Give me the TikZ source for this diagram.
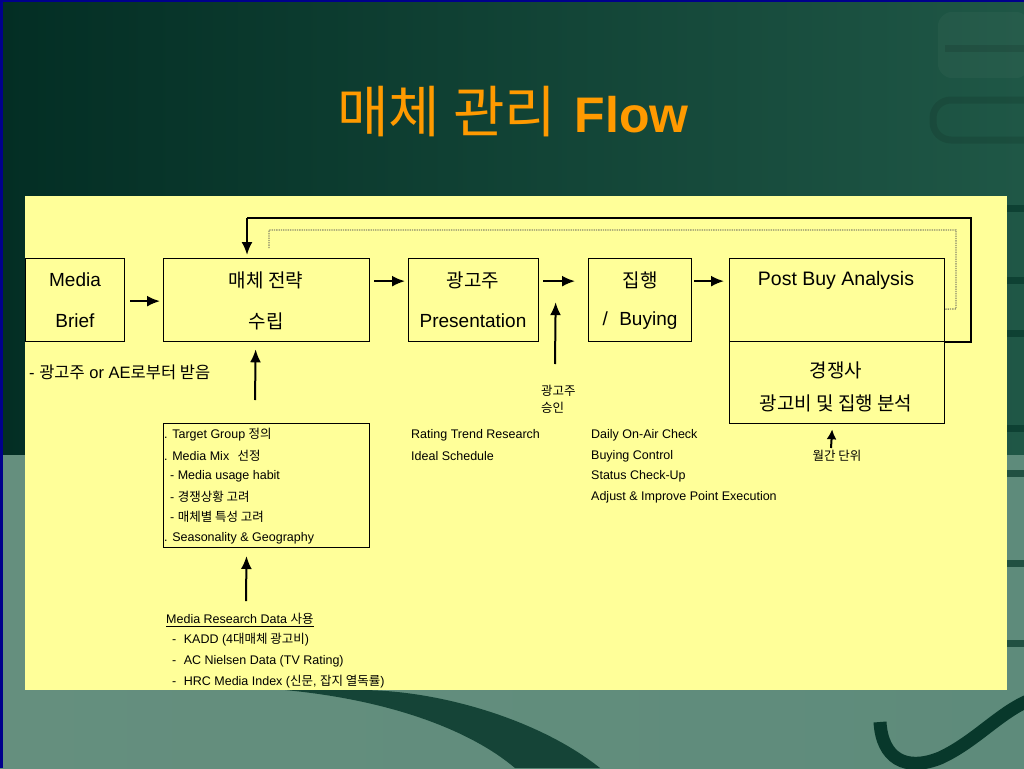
\documentclass[tikz,border=0pt]{standalone}
\usepackage{fontspec}
\setmainfont{Liberation Sans}
\newfontfamily\krfont{Noto Sans CJK KR}
\newcommand\kr[1]{{\krfont #1}}
\usetikzlibrary{arrows.meta,calc}
\definecolor{panel}{HTML}{FFFF99}
\definecolor{ttl}{HTML}{FF9A00}
\definecolor{bgTL}{HTML}{032E24}
\definecolor{bgTR}{HTML}{1F5746}
\definecolor{bgBL}{HTML}{658F7E}
\definecolor{bgBM}{HTML}{235343}
\definecolor{bgBR}{HTML}{5E8B7B}
\definecolor{dk}{HTML}{08382B}
\definecolor{dotc}{HTML}{8A8A6A}
\tikzset{
  box/.style={draw=black, line width=1.3pt, inner sep=0pt, anchor=north west},
  bt/.style={font=\fontsize{19}{22}\selectfont, inner sep=0pt, anchor=center},
  st/.style={font=\fontsize{12.5}{15}\selectfont, inner sep=0pt, anchor=west},
  arr/.style={line width=2pt, -{Latex[length=13pt,width=11pt]}},
  fb/.style={line width=2pt},
  dotl/.style={draw=dotc, line width=1.3pt, densely dotted},
}
\begin{document}
\begin{tikzpicture}[x=1pt,y=-1pt]
\useasboundingbox (0,0) rectangle (1024,768);
% background
\fill[left color=bgTL, right color=bgTR] (0,0) rectangle (1024,456);
\fill[left color=bgBL, middle color=bgBM, right color=bgBR] (0,455) rectangle (1024,768);
\fill[dk, opacity=0.85] (285,690) .. controls (390,700) and (470,730) .. (515,768) -- (600,768) .. controls (540,720) and (440,690) .. (360,690) -- cycle;
\draw[dk, line width=13pt] (880,722) .. controls (882,758) and (905,772) .. (940,758) .. controls (975,742) and (1000,712) .. (1030,700);
% right decorations
\fill[white, opacity=0.03, rounded corners=14pt] (938,12) rectangle (1030,78);
\fill[black, opacity=0.10] (945,45) rectangle (1030,52);
\draw[black, opacity=0.10, line width=7pt, rounded corners=18pt] (933,100) rectangle (1045,140);
\foreach \yy in {205,277,330,425,470,560,640} {\fill[dk, opacity=0.7] (1007,\yy) rectangle (1024,\yy+7);}
\fill[blue!55!black] (0,0) rectangle (1024,2.5);
\fill[blue!55!black] (0,0) rectangle (2.5,768);
% title
\node[inner sep=0pt, text=ttl] (title) at (513,112) {\fontsize{56}{60}\selectfont\kr{매체 관리}\hspace{0.33em}\fontsize{50}{56}\selectfont\textbf{Flow}};
% panel
\fill[panel] (25,196) rectangle (1007,690);
% boxes
\node[box, minimum width=99pt, minimum height=83pt] (brief) at (25,258) {};
\node[box, minimum width=206pt, minimum height=83pt] (strat) at (163,258) {};
\node[box, minimum width=130pt, minimum height=83pt] (pres) at (408,258) {};
\node[box, minimum width=103pt, minimum height=83pt] (buy) at (588,258) {};
\node[box, minimum width=215pt, minimum height=83pt] (pba) at (729,258) {};
\node[box, minimum width=215pt, minimum height=82pt] (comp) at (729,341) {};
\node[box, line width=1pt, minimum width=206pt, minimum height=124pt] (detail) at (163,423) {};
% box texts
\node[bt] (briefA) at (75,280) {Media};
\node[bt] (briefB) at (75,321) {Brief};
\node[bt] (stratA) at (266,280) {\kr{매체 전략}};
\node[bt] (stratB) at (266,321) {\kr{수립}};
\node[bt] (presA) at (473,280) {\kr{광고주}};
\node[bt] (presB) at (473,321) {Presentation};
\node[bt] (buyA) at (640,280) {\kr{집행}};
\node[bt] (buyB) at (640,321) {/\hspace{0.6em}Buying};
\node[bt, font=\fontsize{19.5}{22}\selectfont] (pbaA) at (836,280) {Post Buy Analysis};
\node[bt] (compA) at (836,370) {\kr{경쟁사}};
\node[bt] (compB) at (836,403) {\kr{광고비 및 집행 분석}};
% feedback loops
\coordinate (fbT) at (971,218);
\coordinate (fbL) at (247,218);
\coordinate (fbIn) at (247,255);
\draw[fb] (pba.south east) -- (pba.south east -| fbT) -- (fbT) -- (fbL);
\draw[arr] (fbL) -- (fbIn);
\coordinate (dtR) at (956,309);
\coordinate (dtT) at (956,230);
\coordinate (dtL) at (269,230);
\coordinate (dtE) at (269,249);
\draw[dotl] ($(pba.east)+(0,9)$) -- (dtR) -- (dtT) -- (dtL) -- (dtE);
% flow arrows
\draw[arr] ($(brief.east)+(5,1)$) -- ($(strat.west)+(-3,1)$);
\draw[arr] ($(strat.east)+(4,-19)$) -- ($(pres.west)+(-3,-19)$);
\draw[arr] ($(pres.east)+(4,-19)$) -- ($(buy.west)+(-13,-19)$);
\draw[arr] ($(buy.east)+(2,-19)$) -- ($(pba.west)+(-5,-19)$);
% side notes
\node[st, font=\fontsize{16.5}{19}\selectfont] (note1) at (29,372) {- \kr{광고주} or AE\kr{로부터 받음}};
\node[st] (apprA) at (541,391) {\kr{광고주}};
\node[st] (apprB) at (541,408) {\kr{승인}};
\coordinate (apprTail) at (555,364);
\draw[arr] (apprTail) -- ($(pres.east)!0.5!(buy.west)+(-8,2)$);
\coordinate (stratTail) at (255,400);
\draw[arr] (stratTail) -- ($(strat.south)+(-11,7)$);
\coordinate (detTail) at (246,601);
\draw[arr] (detTail) -- ($(detail.south)+(-20,8)$);
\coordinate (monTail) at (831,448);
\draw[arr, -{Latex[length=10pt,width=10pt]}] (monTail) -- ($(comp.south)+(-5,5)$);
\node[st, anchor=center] (monthly) at (837,456) {\kr{월간 단위}};
% detail list
\node[st] (d1) at (164,435) {. Target Group \kr{정의}};
\node[st] (d2) at (164,456) {. Media Mix\hspace{0.4em} \kr{선정}};
\node[st] (d3) at (170,476) {- Media usage habit};
\node[st] (d4) at (170,497) {- \kr{경쟁상황 고려}};
\node[st] (d5) at (170,517) {- \kr{매체별 특성 고려}};
\node[st] (d6) at (164,538) {. Seasonality \& Geography};
% middle lists
\node[st] (r1) at (411,435) {Rating Trend Research};
\node[st] (r2) at (411,456) {Ideal Schedule};
\node[st] (b1) at (591,435) {Daily On-Air Check};
\node[st] (b2) at (591,456) {Buying Control};
\node[st] (b3) at (591,476) {Status Check-Up};
\node[st] (b4) at (591,497) {Adjust \& Improve Point Execution};
% research data
\node[st] (m0) at (166,620) {\underline{Media Research Data \kr{사용}}};
\node[st] (m1) at (172,640) {-\hspace{0.6em}KADD (4\kr{대매체 광고비})};
\node[st] (m2) at (172,661) {-\hspace{0.6em}AC Nielsen Data (TV Rating)};
\node[st] (m3) at (172,682) {-\hspace{0.6em}HRC Media Index (\kr{신문}, \kr{잡지 열독률})};
\end{tikzpicture}
\end{document}
